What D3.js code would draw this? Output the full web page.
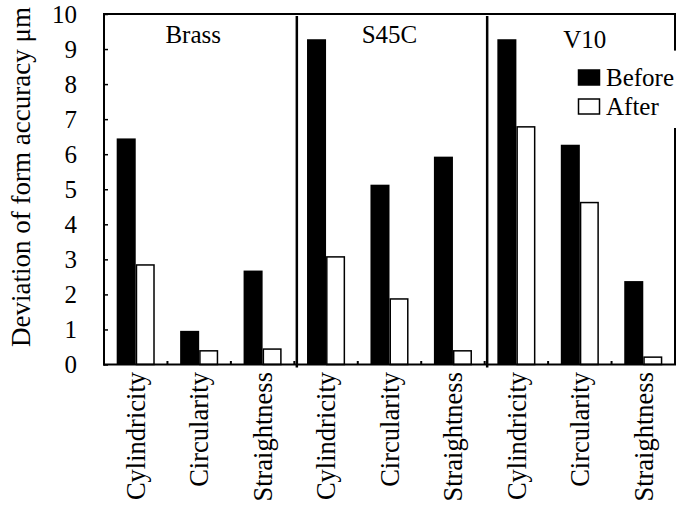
<!DOCTYPE html>
<html><head><meta charset="utf-8">
<script src="https://cdn.jsdelivr.net/npm/d3@7"></script>
</head><body style="margin:0;background:#fff"><svg id="c" width="681" height="505" font-family="Liberation Serif"></svg>
<script>
const groups = ["Brass","S45C","V10"];
const metrics = ["Cylindricity","Circularity","Straightness"];
const series = ["Before","After"];
const before = [6.45, 0.96, 2.68, 9.28, 5.13, 5.93, 9.28, 6.27, 2.38];
const after  = [2.84, 0.39, 0.44, 3.07, 1.87, 0.39, 6.78, 4.62, 0.21];
const yTicks = [0,1,2,3,4,5,6,7,8,9,10];
const titleDx = [-6, 0, 5];
const titleDy = [0, 0, 5];
const FONT = "Liberation Serif";

const svg = d3.select("#c");
const L=104, R=675, T=14, B=364.5;
const cats = [];
groups.forEach(g=>metrics.forEach(m=>cats.push(g+"|"+m)));
const x = d3.scaleBand().domain(cats).range([L,R]);
const bw = x.bandwidth();
const xs = d3.scaleBand().domain(series).range([0.2*bw,0.8*bw]);
const y = d3.scaleLinear().domain([0,10]).range([B,T]);

const data = [];
cats.forEach((c,i)=>{data.push({c,s:"Before",v:before[i]});data.push({c,s:"After",v:after[i]});});

// bars
svg.append("g").selectAll("rect").data(data).join("rect")
  .attr("x",d=>x(d.c)+xs(d.s)+(d.s==="After"?0.75:0))
  .attr("width",d=>xs.bandwidth()-(d.s==="After"?1.5:0))
  .attr("y",d=>y(d.v))
  .attr("height",d=>y(0)-y(d.v))
  .attr("fill",d=>d.s==="Before"?"#000":"#fff")
  .attr("stroke",d=>d.s==="Before"?"none":"#000")
  .attr("stroke-width",1.5);

// y axis
const ya = svg.append("g").attr("transform",`translate(${L},0)`)
  .call(d3.axisLeft(y).tickValues(yTicks).tickSizeInner(-4).tickSizeOuter(0).tickPadding(27));
ya.attr("font-family",FONT).attr("font-size",25);
ya.select(".domain").remove();
ya.selectAll(".tick line").attr("stroke","#000").attr("stroke-width",1.5);
ya.selectAll(".tick text").attr("fill","#000");

// frame
const frame = svg.append("g").attr("stroke","#000").attr("stroke-width",2).attr("fill","none");
frame.append("line").attr("x1",L).attr("x2",L).attr("y1",T-1).attr("y2",B+1);
frame.append("line").attr("x1",L-1).attr("x2",R+1).attr("y1",T).attr("y2",T);
frame.append("line").attr("x1",L-1).attr("x2",R+1).attr("y1",B).attr("y2",B);
frame.append("line").attr("x1",R).attr("x2",R).attr("y1",T).attr("y2",y(8.95));
frame.append("line").attr("x1",R).attr("x2",R).attr("y1",y(6.75)).attr("y2",B);

// category ticks (inward, at band boundaries)
const bounds = cats.slice(1).map(c=>x(c));
svg.append("g").selectAll("line").data(bounds).join("line")
  .attr("x1",d=>d).attr("x2",d=>d).attr("y1",B).attr("y2",B-3.5)
  .attr("stroke","#000").attr("stroke-width",2);

// group dividers
const divs = groups.slice(1).map(g=>x(g+"|"+metrics[0]));
svg.append("g").selectAll("line").data(divs).join("line")
  .attr("x1",d=>d+2.5).attr("x2",d=>d+2.5).attr("y1",T+2).attr("y2",B+3)
  .attr("stroke","#000").attr("stroke-width",2.5);

// group titles
svg.append("g").selectAll("text").data(groups).join("text")
  .attr("x",(g,i)=>(x(g+"|"+metrics[0])+x(g+"|"+metrics[2])+bw)/2+titleDx[i])
  .attr("y",(g,i)=>43+titleDy[i])
  .attr("text-anchor","middle").attr("font-size",25).attr("font-family",FONT).text(d=>d);

// category labels
svg.append("g").selectAll("text").data(cats).join("text")
  .attr("transform",d=>`translate(${x(d)+bw/2},${B+7.5}) rotate(-90)`)
  .attr("text-anchor","end").attr("dy","0.35em").attr("font-size",26.5).attr("font-family",FONT)
  .text(d=>d.split("|")[1]);

// y label
svg.append("text").attr("transform","translate(30,177) rotate(-90)")
  .attr("text-anchor","middle").attr("font-size",27).attr("font-family",FONT)
  .text("Deviation of form accuracy μm");

// legend
const lg = svg.append("g");
lg.append("rect").attr("x",574).attr("y",y(8.95)).attr("width",110).attr("height",y(6.75)-y(8.95)).attr("fill","#fff");
series.forEach((s,i)=>{
  const cy = 78 + i*29;
  lg.append("rect").attr("x",578.5).attr("y",cy-8).attr("width",21).attr("height",15)
    .attr("fill",s==="Before"?"#000":"#fff").attr("stroke","#000").attr("stroke-width",1.5);
  lg.append("text").attr("x",606).attr("y",cy+8).attr("font-size",25).attr("font-family",FONT).text(s);
});
</script></body></html>
